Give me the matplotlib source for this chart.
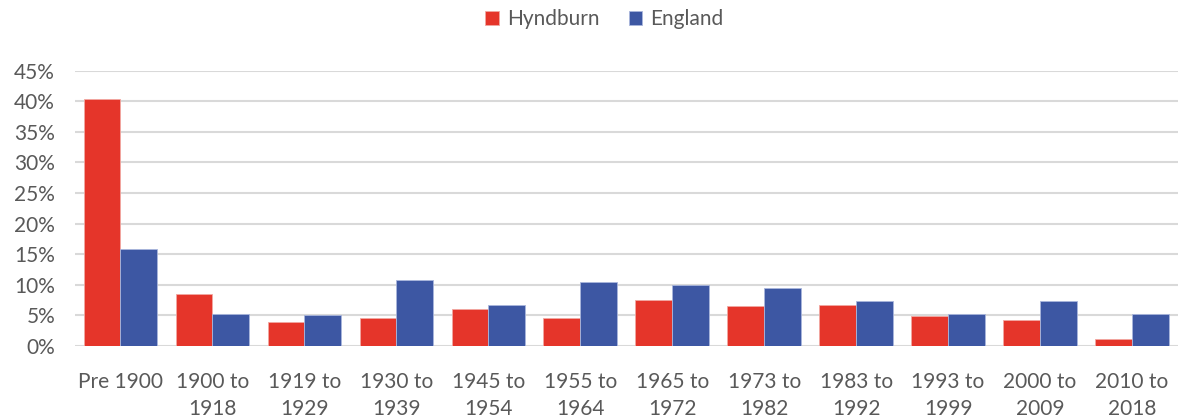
import numpy as np
import matplotlib
matplotlib.use('Agg')
import matplotlib.pyplot as plt
from matplotlib.ticker import PercentFormatter

#Data
categories = ['Pre 1900', '1900 to\n1918', '1919 to\n1929', '1930 to\n1939', '1945 to\n1954',
              '1955 to\n1964', '1965 to\n1972', '1973 to\n1982', '1983 to\n1992',
              '1993 to\n1999', '2000 to\n2009', '2010 to\n2018']
hyndburn = [40.4, 8.45, 3.9, 4.5, 6.0, 4.5, 7.45, 6.5, 6.7, 4.95, 4.2, 1.1]
england = [15.85, 5.3, 5.0, 10.75, 6.75, 10.4, 10.0, 9.4, 7.3, 5.2, 7.3, 5.3]

red = '#E5352A'
blue = '#3D57A3'
text_col = '#595959'

plt.rcParams['font.family'] = ['Lato', 'DejaVu Sans']
plt.rcParams['font.size'] = 15

fig = plt.figure(figsize=(11.78, 4.19), dpi=100)
ax = fig.add_axes([74.5/1178, 1-346/419, (1178-74.5)/1178, (346-70.7)/419])

x = np.arange(len(categories))
w = 0.4
ax.bar(x - w/2, hyndburn, w, color=red, edgecolor='#F2A8A2', linewidth=0.6, label='Hyndburn', zorder=3)
ax.bar(x + w/2, england, w, color=blue, edgecolor='#A9B6DC', linewidth=0.6, label='England', zorder=3)

ax.set_xlim(-0.5, len(categories) - 0.5)
ax.set_ylim(0, 45)
ax.set_yticks(np.arange(0, 46, 5))
ax.yaxis.set_major_formatter(PercentFormatter(decimals=0))
ax.grid(axis='y', color='#D9D9D9', linewidth=1.5, zorder=0)
ax.set_axisbelow(True)
for s in ax.spines.values():
    s.set_visible(False)
ax.tick_params(axis='both', length=0, colors=text_col, labelsize=15)
ax.tick_params(axis='y', pad=14)
ax.tick_params(axis='x', pad=19)
ax.set_xticks(x)
ax.set_xticklabels(categories, linespacing=1.4)

leg = fig.legend(loc='center', bbox_to_anchor=(604.5/1178, 1-19/419), ncol=2, frameon=False,
                 handlelength=0.65, handleheight=0.65, handletextpad=0.4, columnspacing=1.4,
                 fontsize=15)
for t in leg.get_texts():
    t.set_color(text_col)

fig.savefig('out.png', dpi=100)
